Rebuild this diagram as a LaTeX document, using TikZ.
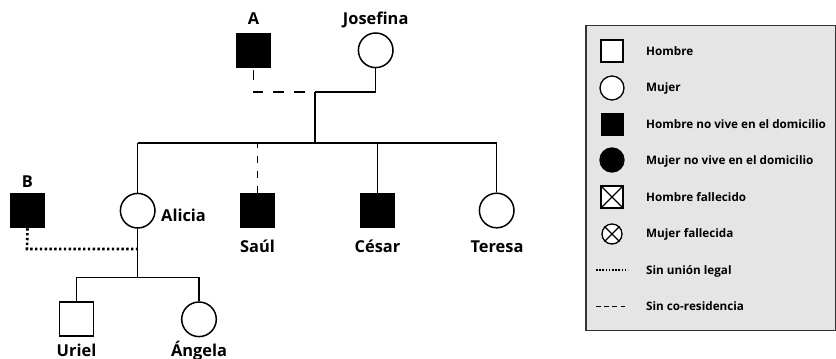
\documentclass[tikz,border=0pt]{standalone}
\usepackage{fontspec}
\setmainfont{Open Sans}
\begin{document}
\begin{tikzpicture}[x=1pt,y=-1pt,
  ln/.style={line width=1.5pt},
  dashln/.style={line width=1.5pt,dash pattern=on 10.5pt off 10.5pt,dash phase=10.5pt},
  sdash/.style={line width=1.4pt,dash pattern=on 7.6pt off 7.6pt,dash phase=2.6pt},
  dotln/.style={line width=2.6pt,dash pattern=on 2.4pt off 2.4pt},
  male/.style={draw,line width=1.5pt,rectangle,minimum size=34pt,inner sep=0pt,fill=white},
  maleaway/.style={male,fill=black},
  female/.style={draw,line width=1.5pt,circle,minimum size=34.6pt,inner sep=0pt,fill=white},
  lbl/.style={font=\bfseries\fontsize{16.4}{18}\selectfont,anchor=base,inner sep=0pt},
  legtxt/.style={font=\bfseries\fontsize{11.7}{13}\selectfont,anchor=base west,inner sep=0pt},
  lsq/.style={draw,line width=1.3pt,rectangle,minimum size=22pt,inner sep=0pt,fill=white},
  lci/.style={draw,line width=1.3pt,circle,minimum size=24pt,inner sep=0pt,fill=white},
  legbox/.style={draw=black!80,line width=1.5pt,fill=black!10}
]
\useasboundingbox (0,0) rectangle (836,359);

% ---------- legend ----------
\node[legbox,rectangle,minimum width=250pt,minimum height=305pt,inner sep=0pt,anchor=north west] (leg) at (585,24.5) {};
\node[lsq] (l1) at (612,51) {};
\node[legtxt] (t1) at (646,55) {Hombre};
\node[lci] (l2) at (612,88) {};
\node[legtxt] (t2) at (646,91.5) {Mujer};
\node[lsq,fill=black] (l3) at (612.5,124.5) {};
\node[legtxt] (t3) at (646,128) {Hombre no vive en el domicilio};
\node[lci,fill=black] (l4) at (612,160) {};
\node[legtxt] (t4) at (646,164.5) {Mujer no vive en el domicilio};
\node[lsq,minimum size=22pt] (l5) at (612,197) {};
\draw[line width=1.1pt] (l5.north west) -- (l5.south east) (l5.north east) -- (l5.south west);
\node[legtxt] (t5) at (646,201) {Hombre fallecido};
\node[lci,minimum size=20pt] (l6) at (612,234) {};
\draw[line width=1.1pt] (l6.north west) -- (l6.south east) (l6.north east) -- (l6.south west);
\node[legtxt] (t6) at (646,237.5) {Mujer fallecida};
\coordinate (d1) at (596,270);
\coordinate (d2) at (628,270);
\draw[line width=2pt,dash pattern=on 1.6pt off 1.6pt] (d1) -- (d2);
\node[legtxt] (t7) at (646,274) {Sin unión legal};
\coordinate (e1) at (596,306.7);
\coordinate (e2) at (628,306.7);
\draw[line width=1.3pt,dash pattern=on 4.6pt off 3.6pt] (e1) -- (e2);
\node[legtxt] (t8) at (646,310.5) {Sin co-residencia};

% ---------- pedigree nodes ----------
\node[maleaway] (A) at (253.5,50.5) {};
\node[lbl] (Alab) at (253.5,24) {A};
\node[female] (J) at (375.7,50.3) {};
\node[lbl] (Jlab) at (375.7,24) {Josefina};

\node[maleaway] (B) at (27.5,210.5) {};
\node[lbl] (Blab) at (27.5,187.3) {B};
\node[female] (Al) at (137.7,210.7) {};
\node[lbl,anchor=base west] (Allab) at (161,221) {Alicia};
\node[maleaway] (S) at (257.5,210.5) {};
\node[lbl] (Slab) at (257.5,252.7) {Saúl};
\node[maleaway] (C) at (377.5,210.5) {};
\node[lbl] (Clab) at (377.5,252.7) {César};
\node[female] (T) at (496.7,210.5) {};
\node[lbl] (Tlab) at (497,252.7) {Teresa};

\node[male] (U) at (76.5,319.2) {};
\node[lbl] (Ulab) at (76.5,356.5) {Uriel};
\node[female] (An) at (199,319.3) {};
\node[lbl] (Anlab) at (199,356.5) {Ángela};

% ---------- connectors ----------
\coordinate (acorner) at (253.5,92);
\coordinate (mid) at (315,92);
\coordinate (sib) at (315,143);
\coordinate (sl) at (137.7,143);
\coordinate (sr) at (496.7,143);
\draw[dashln] (mid) -- (acorner) -- (A.south);
\draw[ln] (mid) -- (mid -| J.south) -- (J.south);
\draw[ln] (mid) -- (sib);
\draw[ln] (sl) -- (sr);
\draw[ln] (sl) -- (Al.north);
\draw[sdash] (sl -| S.north) -- (S.north);
\draw[ln] (sl -| C.north) -- (C.north);
\draw[ln] (sr) -- (T.north);

\coordinate (bcorner) at (27,249);
\coordinate (bjoin) at (137.7,249);
\coordinate (cjoin) at (137.7,277.3);
\coordinate (cl) at (76.5,277.3);
\coordinate (cr) at (199,277.3);
\draw[dotln] (B.south) -- (bcorner) -- (bjoin);
\draw[ln] (Al.south) -- (cjoin);
\draw[ln] (cl) -- (cr);
\draw[ln] (cl) -- (U.north);
\draw[ln] (cr) -- (An.north);
\end{tikzpicture}
\end{document}
